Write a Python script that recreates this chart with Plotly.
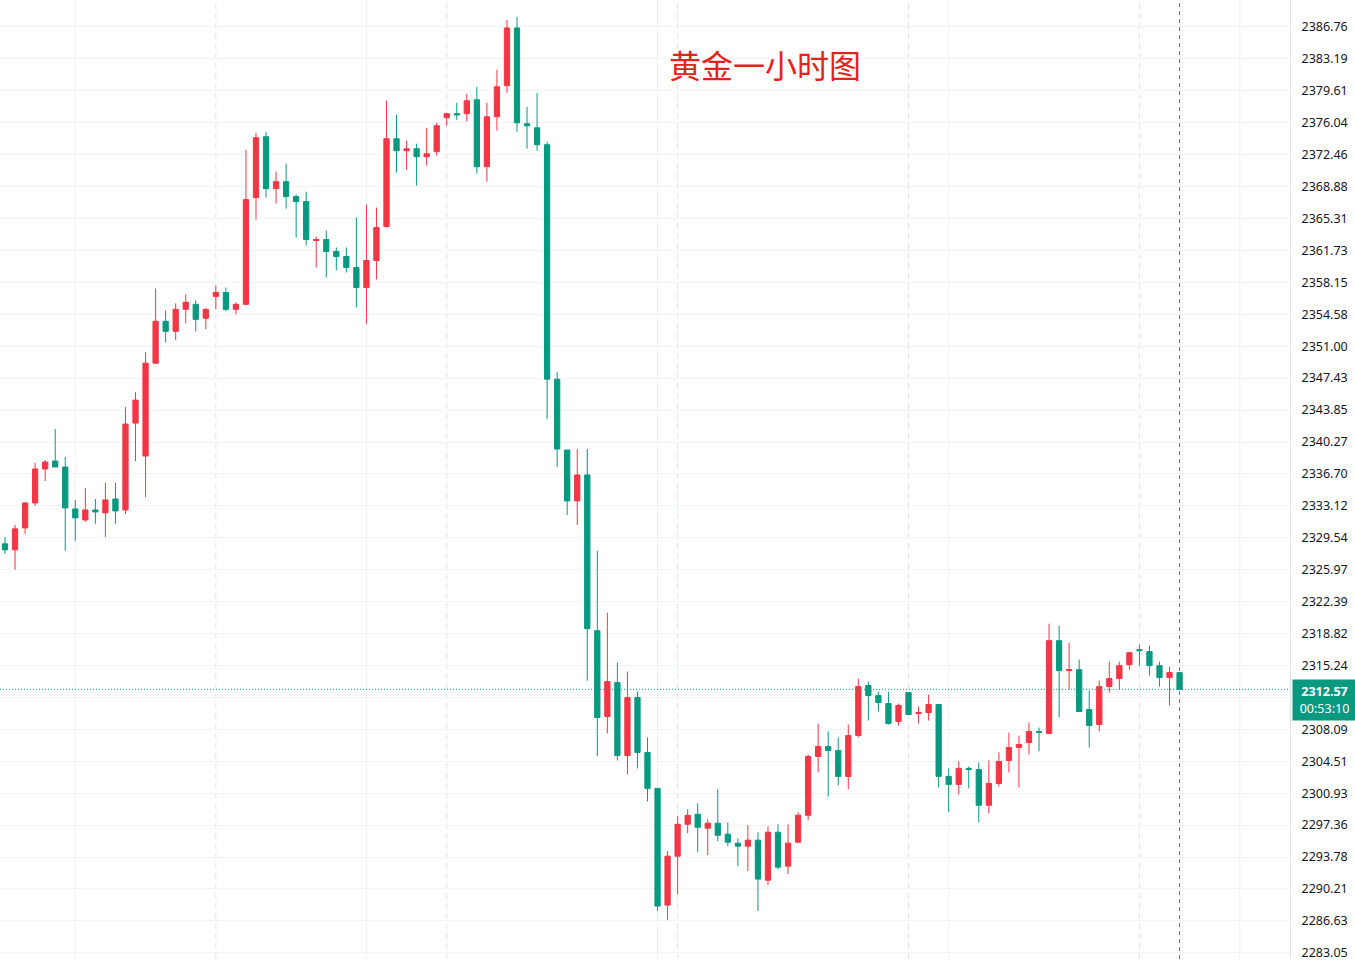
import plotly.graph_objects as go

# ---------------- data ----------------
open_ = [
    2328.86, 2328.19, 2330.65, 2333.44, 2337.25, 2338.14, 2337.47, 2332.77, 2331.54, 2332.66,
    2332.33, 2333.89, 2332.66, 2342.39, 2338.70, 2349.10, 2353.79, 2352.67, 2355.13, 2355.69,
    2354.13, 2356.58, 2357.02, 2355.13, 2355.69, 2367.65, 2374.46, 2368.65, 2369.43, 2367.76,
    2367.20, 2362.84, 2362.95, 2361.61, 2361.05, 2359.82, 2357.58, 2360.60, 2364.40, 2374.24,
    2372.90, 2373.12, 2372.23, 2372.79, 2376.59, 2377.04, 2377.04, 2378.60, 2371.11, 2376.70,
    2380.17, 2386.65, 2375.92, 2375.47, 2373.57, 2347.31, 2339.37, 2333.67, 2336.58, 2319.13,
    2309.52, 2313.32, 2305.16, 2311.64, 2305.49, 2301.47, 2288.40, 2293.88, 2297.45, 2298.57,
    2297.01, 2297.57, 2296.34, 2295.33, 2295.00, 2295.67, 2291.19, 2296.56, 2292.76, 2295.44,
    2298.46, 2305.05, 2306.17, 2305.72, 2302.81, 2307.39, 2312.99, 2311.87, 2310.97, 2308.96,
    2312.20, 2309.85, 2309.97, 2310.86, 2302.81, 2301.92, 2303.71, 2303.59, 2299.58, 2302.03,
    2304.60, 2306.05, 2306.61, 2307.84, 2307.62, 2318.02, 2314.66, 2314.77, 2310.30, 2308.62,
    2312.87, 2313.77, 2315.33, 2317.01, 2316.79, 2315.22, 2313.88, 2314.44]

high = [
    2329.64, 2330.98, 2333.55, 2337.92, 2338.25, 2341.72, 2338.59, 2333.78, 2335.12, 2333.89,
    2335.68, 2335.68, 2344.18, 2345.85, 2350.33, 2357.47, 2355.02, 2355.80, 2356.80, 2356.14,
    2355.24, 2357.81, 2357.58, 2355.92, 2373.01, 2374.91, 2375.02, 2370.55, 2371.45, 2367.98,
    2368.32, 2363.28, 2363.96, 2362.06, 2362.06, 2365.41, 2366.86, 2366.53, 2378.49, 2376.92,
    2374.02, 2373.68, 2375.47, 2376.03, 2377.15, 2378.27, 2379.27, 2380.06, 2378.27, 2381.96,
    2387.54, 2387.88, 2377.82, 2379.38, 2373.91, 2348.09, 2339.37, 2339.48, 2339.48, 2328.08,
    2321.15, 2315.56, 2314.55, 2312.31, 2307.17, 2301.47, 2294.44, 2298.35, 2299.13, 2299.80,
    2298.01, 2301.36, 2297.68, 2295.89, 2297.34, 2296.56, 2297.23, 2297.45, 2297.45, 2298.80,
    2305.27, 2308.74, 2307.84, 2307.17, 2308.62, 2313.77, 2313.43, 2312.31, 2312.31, 2310.97,
    2312.20, 2310.64, 2311.98, 2310.86, 2303.71, 2304.49, 2303.93, 2304.38, 2304.60, 2305.49,
    2307.73, 2307.39, 2308.85, 2308.29, 2319.92, 2319.69, 2317.79, 2315.89, 2312.43, 2313.54,
    2315.67, 2315.67, 2316.79, 2317.57, 2317.46, 2315.67, 2315.11, 2314.44]

low = [
    2327.74, 2325.95, 2329.98, 2333.11, 2335.90, 2337.47, 2328.08, 2329.20, 2331.32, 2331.10,
    2329.64, 2331.10, 2332.21, 2338.14, 2334.12, 2349.10, 2351.44, 2351.67, 2353.57, 2352.67,
    2352.90, 2355.13, 2354.91, 2354.57, 2355.58, 2365.18, 2367.65, 2366.97, 2366.41, 2363.17,
    2362.28, 2359.82, 2358.70, 2359.48, 2359.26, 2355.36, 2353.46, 2358.48, 2364.29, 2370.44,
    2370.78, 2368.99, 2371.22, 2372.34, 2375.69, 2376.36, 2376.14, 2370.33, 2369.43, 2375.14,
    2379.38, 2375.02, 2373.12, 2372.90, 2342.83, 2337.47, 2332.10, 2330.98, 2313.54, 2305.05,
    2307.62, 2304.60, 2303.04, 2303.71, 2300.02, 2287.73, 2286.72, 2289.63, 2296.45, 2294.32,
    2293.99, 2295.55, 2295.00, 2292.76, 2292.20, 2287.73, 2290.64, 2292.42, 2291.87, 2295.33,
    2297.90, 2303.26, 2300.58, 2301.81, 2301.36, 2307.17, 2309.07, 2310.08, 2308.62, 2308.51,
    2309.74, 2308.74, 2309.07, 2301.58, 2298.80, 2300.80, 2301.47, 2297.68, 2298.68, 2301.69,
    2303.26, 2301.58, 2305.27, 2305.61, 2307.62, 2309.41, 2312.54, 2310.08, 2306.05, 2307.84,
    2312.20, 2312.54, 2314.77, 2315.22, 2314.10, 2312.87, 2310.75, 2312.57]

close = [
    2328.19, 2330.54, 2333.44, 2337.25, 2338.03, 2337.47, 2332.88, 2331.77, 2332.66, 2332.44,
    2333.78, 2332.55, 2342.28, 2344.96, 2349.10, 2353.79, 2352.67, 2355.13, 2355.92, 2354.01,
    2355.13, 2357.02, 2355.13, 2355.69, 2367.42, 2374.35, 2368.65, 2369.43, 2367.76, 2367.20,
    2362.95, 2362.95, 2361.61, 2361.05, 2359.82, 2357.58, 2360.60, 2364.29, 2374.24, 2372.90,
    2373.12, 2372.23, 2372.56, 2375.69, 2377.04, 2376.92, 2378.49, 2371.11, 2376.70, 2380.06,
    2386.65, 2376.03, 2375.69, 2373.57, 2347.31, 2339.48, 2333.67, 2336.58, 2319.36, 2309.41,
    2313.43, 2305.16, 2311.64, 2305.49, 2301.47, 2288.29, 2293.88, 2297.45, 2298.46, 2297.12,
    2297.57, 2296.22, 2295.44, 2295.00, 2295.67, 2291.31, 2296.56, 2292.65, 2295.33, 2298.46,
    2305.05, 2306.17, 2305.72, 2302.81, 2307.39, 2312.87, 2311.87, 2311.08, 2308.74, 2310.75,
    2309.74, 2309.97, 2310.86, 2302.81, 2301.92, 2303.71, 2303.59, 2299.58, 2302.03, 2304.49,
    2306.05, 2306.39, 2307.84, 2307.73, 2318.02, 2314.66, 2314.77, 2310.08, 2308.51, 2312.87,
    2313.77, 2315.22, 2316.67, 2316.90, 2315.22, 2313.88, 2314.44, 2312.57]

bar_index = list(range(len(close)))

tick_values = [2283.05, 2286.63, 2290.21, 2293.78, 2297.36, 2300.93, 2304.51, 2308.09,
               2311.66, 2315.24, 2318.82, 2322.39, 2325.97, 2329.54, 2333.12, 2336.70,
               2340.27, 2343.85, 2347.43, 2351.00, 2354.58, 2358.15, 2361.73, 2365.31,
               2368.88, 2372.46, 2376.04, 2379.61, 2383.19, 2386.76]
hidden_tick = 2311.66          # covered by the last-price label
tick_labels = ["" if v == hidden_tick else f"{v:.2f}" for v in tick_values]

session_lines = [21, 44, 67, 90, 113]     # dashed vertical separators (bar index)
time_grid_lines = [7, 36, 65, 94, 123]    # light vertical grid (bar index)

last_price = 2312.57
countdown = "00:53:10"
title_text = "黄金一小时图"

# ---------------- style ----------------
UP = "#F23645"     # red = rising
DOWN = "#089981"   # green = falling
GRID = "#f0f3fa"
FONT = "Noto Sans, Liberation Sans, sans-serif"

fig = go.Figure()
fig.add_trace(go.Candlestick(
    x=bar_index, open=open_, high=high, low=low, close=close,
    increasing=dict(line=dict(color=UP, width=1), fillcolor=UP),
    decreasing=dict(line=dict(color=DOWN, width=1), fillcolor=DOWN),
    whiskerwidth=0, hoverinfo="skip", showlegend=False,
))

shapes = []
for xi in time_grid_lines:
    shapes.append(dict(type="line", xref="x", yref="paper", x0=xi, x1=xi, y0=0, y1=1,
                       line=dict(color="#eceff4", width=1), layer="below"))
for xi in session_lines:
    shapes.append(dict(type="line", xref="x", yref="paper", x0=xi, x1=xi, y0=0, y1=1,
                       line=dict(color="#e0e3eb", width=1, dash="6px,4px"), layer="below"))
# crosshair on the last bar
shapes.append(dict(type="line", xref="x", yref="paper", x0=bar_index[-1], x1=bar_index[-1],
                   y0=0, y1=1, line=dict(color="#6a6d78", width=1, dash="4px,4px")))
# last price line
shapes.append(dict(type="line", xref="paper", yref="y", x0=0, x1=1, y0=last_price, y1=last_price,
                   line=dict(color=DOWN, width=1, dash="1px,2px")))

annotations = [
    dict(text=title_text, xref="paper", yref="paper", x=0.593, y=0.933,
         xanchor="center", yanchor="middle", showarrow=False,
         font=dict(family="Noto Sans CJK SC", size=32, color="#e3231b")),
    dict(text=f"<b>{last_price:.2f}</b><br>{countdown}", xref="paper", yref="y",
         x=1, xanchor="left", xshift=2, y=last_price, yanchor="top", yshift=10,
         showarrow=False, bgcolor=DOWN, width=61, height=38, borderpad=1,
         align="center", font=dict(family=FONT, size=12.5, color="white")),
]

fig.update_layout(
    width=1355, height=961,
    margin=dict(l=0, r=65, t=0, b=0),
    paper_bgcolor="white", plot_bgcolor="white",
    showlegend=False, boxgap=0.25,
    shapes=shapes, annotations=annotations,
    font=dict(family=FONT, size=12.5, color="#131722"),
    xaxis=dict(range=[-0.5, 128], showgrid=False, showticklabels=False, zeroline=False,
               rangeslider=dict(visible=False), fixedrange=True),
    yaxis=dict(side="right", range=[2282.36, 2389.78], tickvals=tick_values,
               ticktext=tick_labels, showgrid=True, gridcolor=GRID, zeroline=False,
               ticks="outside", ticklen=8, tickcolor="rgba(0,0,0,0)",
               ticklabeloverflow="allow",
               showline=True, linecolor="#e0e3eb", linewidth=1,
               tickfont=dict(family=FONT, size=12.5, color="#131722"), fixedrange=True),
)

fig.write_html("out.html", config={"displayModeBar": False},
               post_script="document.body.style.margin='0';document.body.style.overflow='hidden';")
